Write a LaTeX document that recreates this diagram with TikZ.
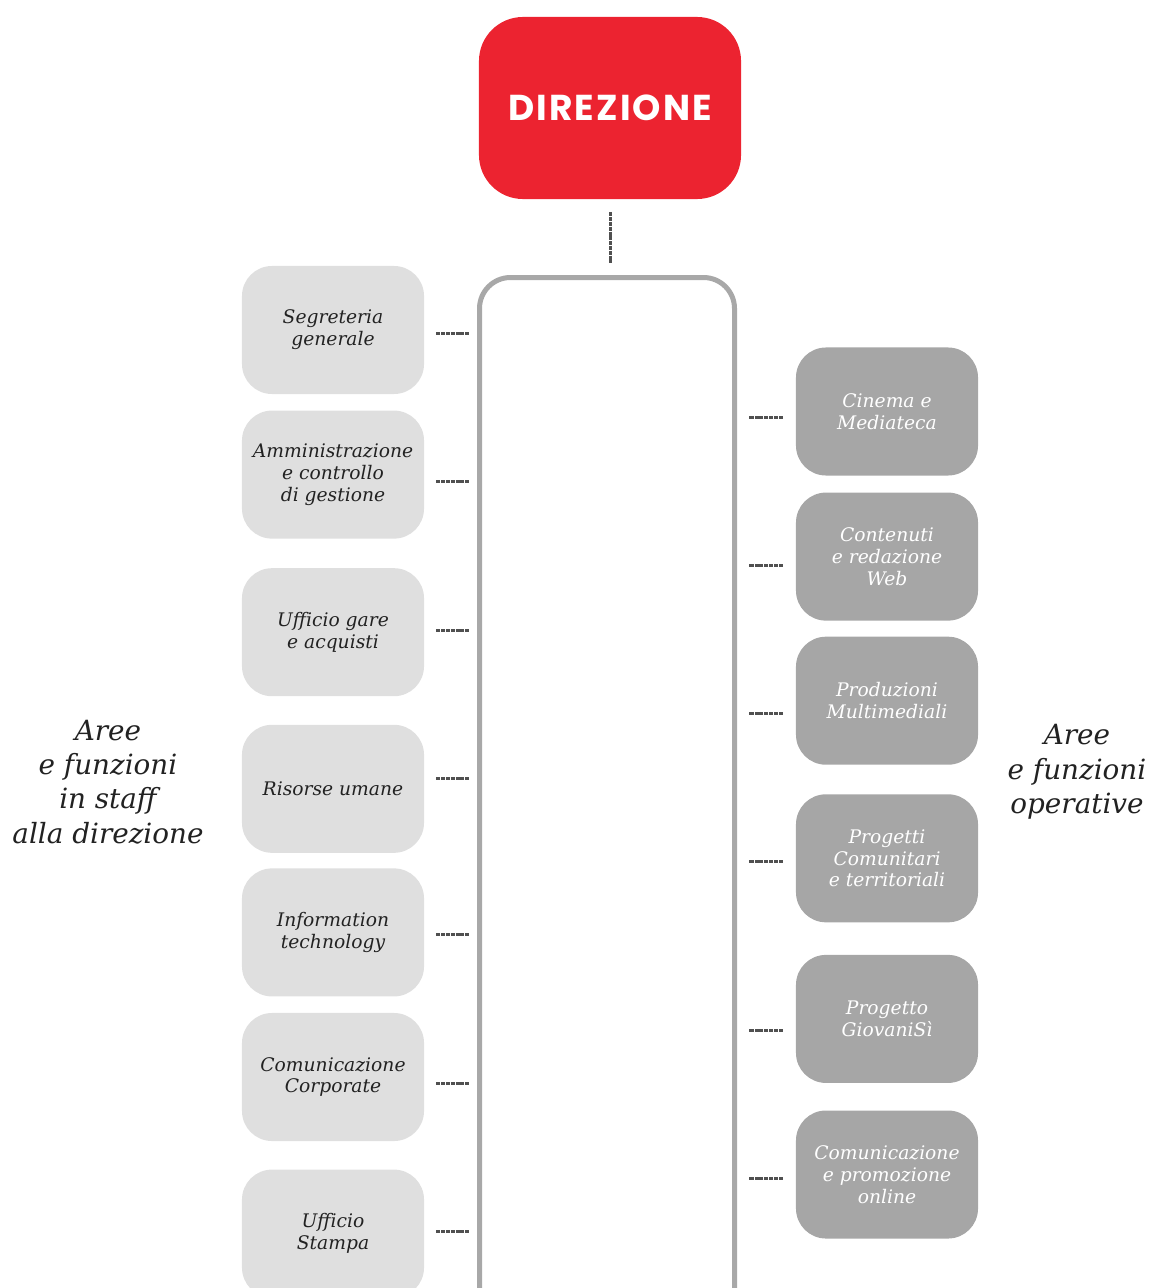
\documentclass[tikz,border=0pt]{standalone}
\usepackage{fontspec}
\setmainfont{DejaVu Serif}
\newfontfamily\headfont{Poppins}[LetterSpace=6]
\usetikzlibrary{positioning}
\definecolor{dirred}{HTML}{EC2330}
\definecolor{staffgray}{HTML}{DFDFDF}
\definecolor{opgray}{HTML}{A6A6A6}
\definecolor{framegray}{HTML}{A8A8A8}
\definecolor{linkgray}{HTML}{505050}
\definecolor{textdark}{HTML}{222222}
\tikzset{head node/.style={rectangle,rounded corners=1.1cm,fill=dirred,text=white,minimum width=6.55cm,minimum height=4.55cm,inner sep=0pt,font=\headfont\bfseries\fontsize{25.6}{30}\selectfont},
staff node/.style={rectangle,rounded corners=0.75cm,fill=staffgray,text=textdark,minimum width=4.55cm,minimum height=3.2cm,inner sep=0pt,align=center,font=\itshape\fontsize{13.3}{15.6}\selectfont},
op node/.style={staff node,fill=opgray,text=white},
area label/.style={align=center,text=textdark,font=\itshape\fontsize{19.8}{24.4}\selectfont},
link/.style={draw=linkgray,line width=0.075cm,dash pattern=on 0.1cm off 0.02cm},
frame/.style={draw=framegray,line width=0.125cm,rounded corners=0.775cm},}

\begin{document}
\begin{tikzpicture}[x=0.025cm,y=0.025cm]
    \useasboundingbox (0,0) rectangle (1149,-1288);
    \clip (0,0) rectangle (1149,-1288);

    \node[head node] (dir) at (610,-108) {DIREZIONE};

    \node[staff node] (s1) at (333,-330) {Segreteria\\generale};
    \node[staff node] (s2) [below = 0.4cm of s1] {Amministrazione\\e controllo\\di gestione};
    \node[staff node] (s3) [below = 0.725cm of s2] {Ufficio gare\\e acquisti};
    \node[staff node] (s4) [below = 0.7cm of s3] {Risorse umane};
    \node[staff node] (s5) [below = 0.375cm of s4] {Information\\technology};
    \node[staff node] (s6) [below = 0.4cm of s5] {Comunicazione\\Corporate};
    \node[staff node] (s7) [below = 0.7cm of s6] {Ufficio\\Stampa};

    \node[op node] (o1) at (887,-411.5) {Cinema e\\Mediateca};
    \node[op node] (o2) [below = 0.4125cm of o1] {Contenuti\\e redazione\\Web};
    \node[op node] (o3) [below = 0.3875cm of o2] {Produzioni\\Multimediali};
    \node[op node] (o4) [below = 0.725cm of o3] {Progetti\\Comunitari\\e territoriali};
    \node[op node] (o5) [below = 0.8cm of o4] {Progetto\\GiovaniSì};
    \node[op node] (o6) [below = 0.675cm of o5] {Comunicazione\\e promozione\\online};

    \node[area label] (staff) at (108,-782) {Aree\\e funzioni\\in staff\\alla direzione};
    \node[area label] (oper) at (1077,-772) {Aree\\e funzioni\\operative};

    % frame round the two columns
    \draw[frame] (479.5,-1320) -- (479.5,-277.5) -- (734.5,-277.5) -- (734.5,-1320);
    \coordinate (top) at (610,-277.5);
    \coordinate (l1) at (479.5,-333);
    \coordinate (l2) at (479.5,-481);
    \coordinate (l3) at (479.5,-630);
    \coordinate (l4) at (479.5,-778);
    \coordinate (l5) at (479.5,-934);
    \coordinate (l6) at (479.5,-1083);
    \coordinate (l7) at (479.5,-1231);
    \coordinate (r1) at (734.5,-417);
    \coordinate (r2) at (734.5,-565);
    \coordinate (r3) at (734.5,-713);
    \coordinate (r4) at (734.5,-861);
    \coordinate (r5) at (734.5,-1030);
    \coordinate (r6) at (734.5,-1178);

    \path[link, shorten <=0.325cm, shorten >=0.36cm]
	(dir.south) edge (top);
    \path[link, shorten <=0.3cm, shorten >=0.24cm]
	(s1.east |- l1) edge (l1)
	(s2.east |- l2) edge (l2)
	(s3.east |- l3) edge (l3)
	(s4.east |- l4) edge (l4)
	(s5.east |- l5) edge (l5)
	(s6.east |- l6) edge (l6)
	(s7.east |- l7) edge (l7);
    \path[link, shorten <=0.325cm, shorten >=0.36cm]
	(o1.west |- r1) edge (r1)
	(o2.west |- r2) edge (r2)
	(o3.west |- r3) edge (r3)
	(o4.west |- r4) edge (r4)
	(o5.west |- r5) edge (r5)
	(o6.west |- r6) edge (r6);
\end{tikzpicture}
\end{document}
